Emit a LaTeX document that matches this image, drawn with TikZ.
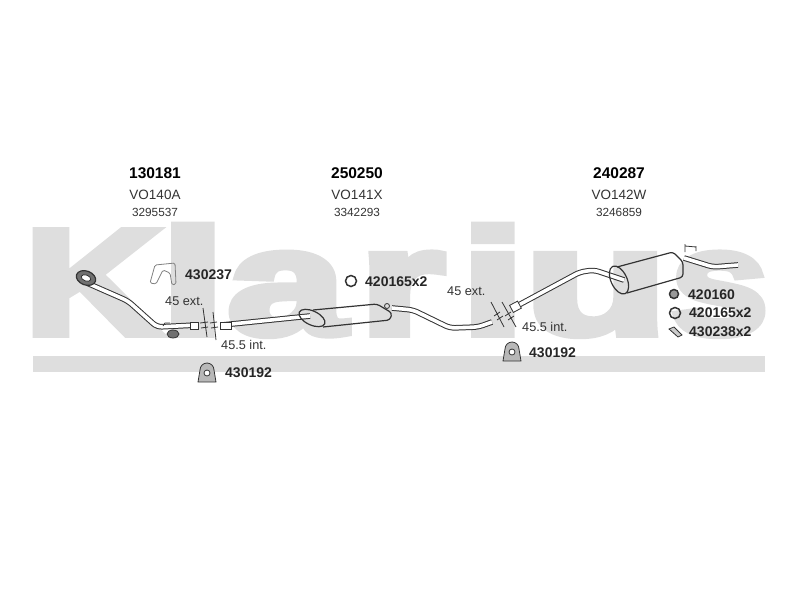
\documentclass[tikz,border=0pt]{standalone}
\usepackage{fontspec}
\setmainfont{Liberation Sans}
\newfontfamily\markfont[FakeBold=5]{Liberation Sans Bold}
\usepackage{xcolor}
\definecolor{markgray}{gray}{0.87}
\definecolor{inkgray}{gray}{0.2}
\newcommand{\markletter}[3]{\rlap{\kern#1pt\scalebox{#2}[1]{#3}}}
\tikzset{
  pipe/.style={draw=inkgray, line width=1pt, double=white, double distance=3.6pt, rounded corners=5pt, line join=round},
  thinline/.style={draw=inkgray, line width=0.8pt},
  boxline/.style={draw=inkgray, line width=1.2pt, rounded corners=3pt},
  head/.style={font=\fontsize{15.5}{15.5}\selectfont\bfseries, text=black},
  refcode/.style={font=\fontsize{13.5}{13.5}\selectfont, text=inkgray},
  oecode/.style={font=\fontsize{11.8}{11.8}\selectfont, text=inkgray},
  part/.style={font=\fontsize{14}{14}\selectfont\bfseries, text=black!85, anchor=west, inner sep=0pt},
  dimtext/.style={font=\fontsize{12.7}{12.7}\selectfont, text=inkgray, anchor=west, inner sep=0pt}
}
\begin{document}
\begin{tikzpicture}[x=1pt,y=-1pt]
 \useasboundingbox (0,0) rectangle (800,600);

 % watermark
 \node[anchor=base west, inner sep=0pt, text=markgray, font=\markfont\fontsize{150}{150}\selectfont] (brand) at (0,334)
   {\markletter{24}{1.26}{K}\markletter{160}{1.55}{l}\markletter{227}{1.41}{a}\markletter{359}{1.45}{r}\markletter{460}{1.55}{i}\markletter{524}{1.56}{u}\markletter{670}{1.17}{s}};
 \fill[markgray] (33,356) rectangle (765,372);

 % front pipe
 \coordinate (P1) at (87,283);
 \coordinate (P2) at (128,301);
 \coordinate (P3) at (157,327);
 \coordinate (P4) at (197,325);
 \draw[pipe] (P1) -- (P2) -- (P3) -- (P4);
 \draw[thinline, fill=white] (190,322) rectangle (198,329);
 \draw[boxline, fill=inkgray!70, rotate around={-20:(86,278)}] (86,278) ellipse (10 and 7);
 \draw[thinline, fill=white, rotate around={-20:(86,278)}] (86,278) ellipse (5 and 3);
 \draw[thinline, fill=inkgray!70] (173,334) ellipse (6 and 4);
 \draw[thinline] (163,326) -- (165,323) -- (170,323);

 % centre pipe and silencer
 \coordinate (C1) at (222,325);
 \coordinate (C2) at (310,316);
 \draw[pipe] (C1) -- (C2);
 \draw[thinline, fill=white] (220,322) rectangle (231,329);
 \draw[boxline] (313,310) -- (377,304) -- (392,313) -- (390,320) -- (323,327);
 \draw[boxline, rotate around={-25:(312,318)}] (312,318) ellipse (14 and 7);
 \coordinate (C3) at (392,308);
 \coordinate (C4) at (413,310);
 \coordinate (C5) at (450,328);
 \coordinate (C6) at (478,327);
 \coordinate (C7) at (492,322);
 \draw[pipe] (C3) -- (C4) -- (C5) -- (C6) -- (C7);
 \draw[thinline] (387,306) circle (2.5);

 % rear pipe and silencer
 \coordinate (R1) at (515,307);
 \coordinate (R2) at (580,272);
 \coordinate (R3) at (594,270);
 \coordinate (R4) at (624,280);
 \draw[pipe] (R1) -- (R2) -- (R3) -- (R4);
 \draw[thinline, fill=white, rotate around={28:(R1)}] (511,303) rectangle (520,311);
 \draw[boxline] (617,267) -- (673,252) -- (683,262) -- (683,277) -- (627,293);
 \draw[boxline, rotate around={-65:(619,280)}] (619,280) ellipse (15 and 8);
 \coordinate (R5) at (684,258);
 \coordinate (R6) at (713,267);
 \coordinate (R7) at (738,265);
 \draw[pipe] (R5) -- (R6) -- (R7);
 \draw[thinline] (685,252) -- (685,244) (685,246) -- (696,247) (696,246) -- (696,251);

 % cut marks
 \draw[thinline] (203,308) -- (207,337) (200,323) -- (208,322) (201,328) -- (208,327);
 \draw[thinline] (213,312) -- (216,340) (210,323) -- (217,322) (211,328) -- (218,327);
 \draw[thinline] (491,302) -- (504,327) (494,316) -- (500,312) (497,320) -- (503,316);
 \draw[thinline] (502,302) -- (516,327) (505,316) -- (511,312) (508,320) -- (514,316);

 % headings
 \node[head] (headA) at (155,173) {130181};
 \node[refcode] (refA) at (155,195) {VO140A};
 \node[oecode] (oeA) at (155,212) {3295537};
 \node[head] (headB) at (357,173) {250250};
 \node[refcode] (refB) at (357,195) {VO141X};
 \node[oecode] (oeB) at (357,212) {3342293};
 \node[head] (headC) at (619,173) {240287};
 \node[refcode] (refC) at (619,195) {VO142W};
 \node[oecode] (oeC) at (619,212) {3246859};

 % dimensions
 \node[dimtext] (extA) at (165,301) {45 ext.};
 \node[dimtext] (intA) at (221,345) {45.5 int.};
 \node[dimtext] (extB) at (447,291) {45 ext.};
 \node[dimtext] (intB) at (522,327) {45.5 int.};

 % fittings
 \draw[thinline, draw=gray, rounded corners=1.5pt] (150,283) -- (155,265) -- (175,263) -- (176,284) -- (172,285) -- (170,273) -- (163,270) -- (156,284) -- cycle;
 \node[part] (partA) at (185,275) {430237};
 \foreach \cx/\cy in {207/373, 512/352} {
  \draw[thinline, fill=inkgray!35] (\cx-9,\cy+9) -- (\cx-7,\cy-3) arc (180:360:7) -- (\cx+9,\cy+9) -- cycle;
  \draw[thinline, fill=white] (\cx,\cy) circle (3);
 }
 \node[part] (partB) at (225,373) {430192};
 \node[part] (partC) at (529,353) {430192};
 \draw[line width=1.5pt, draw=inkgray] (351,281) circle (5.5);
 \node[part] (partD) at (365,282) {420165x2};
 \draw[line width=1.5pt, draw=inkgray, fill=inkgray!50] (674,294) circle (4.5);
 \node[part] (partE) at (688,295) {420160};
 \draw[line width=1.5pt, draw=inkgray] (675,313) circle (5.5);
 \node[part] (partF) at (689,313) {420165x2};
 \draw[thinline, fill=inkgray!25] (669,329) -- (674,327) -- (682,335) -- (678,337) -- cycle;
 \node[part] (partG) at (689,332) {430238x2};

\end{tikzpicture}
\end{document}
